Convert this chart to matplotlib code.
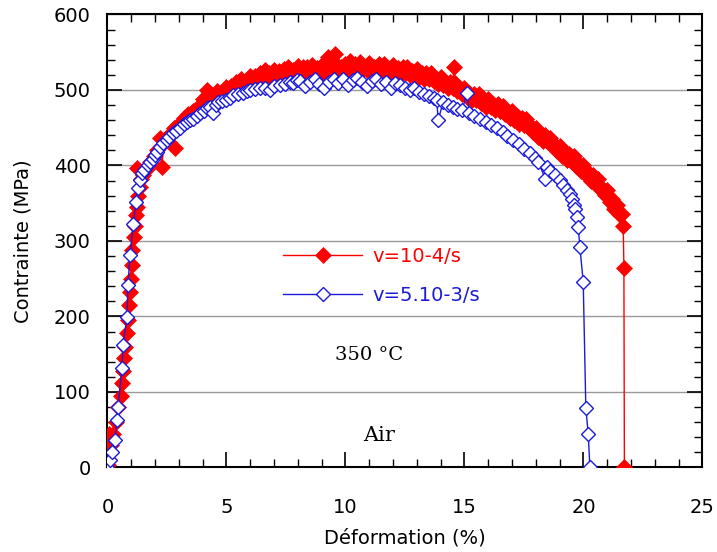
import matplotlib
matplotlib.use("Agg")
import matplotlib.pyplot as plt
from matplotlib.ticker import MultipleLocator

# v=10-4/s (filled red diamonds) - dense, noisy band
red_x = [0.02, 0.05, 0.15, 0.25, 0.35, 0.45, 0.55, 0.6, 0.65, 0.7, 0.75, 0.8, 0.85, 0.9,
         0.95, 1.0, 1.02, 1.05, 1.1, 1.15, 1.2, 1.25, 1.3, 1.23, 1.35, 1.4, 1.5, 1.65, 1.8,
         1.95, 2.1, 2.2, 2.28, 2.4, 2.6, 2.84, 2.8, 3.0, 3.2, 3.4, 3.6, 3.8,
         4.0, 4.1, 4.17, 4.2, 4.3, 4.4, 4.5, 4.6, 4.7, 4.8, 4.9,
         5.0, 5.1, 5.2, 5.3, 5.4, 5.5, 5.6, 5.7, 5.8, 5.9,
         6.0, 6.1, 6.2, 6.3, 6.4, 6.5, 6.6, 6.7, 6.8, 6.9,
         7.0, 7.1, 7.2, 7.3, 7.4, 7.5, 7.6, 7.7, 7.8, 7.9,
         8.0, 8.1, 8.2, 8.3, 8.4, 8.5, 8.6, 8.7, 8.8, 8.9,
         9.0, 9.1, 9.2, 9.25, 9.3, 9.4, 9.5, 9.55, 9.6, 9.7, 9.8, 9.9,
         10.0, 10.1, 10.2, 10.2, 10.3, 10.4, 10.5, 10.6, 10.7, 10.8, 10.9,
         11.0, 11.1, 11.2, 11.3, 11.4, 11.5, 11.6, 11.7, 11.8, 11.9,
         12.0, 12.1, 12.2, 12.3, 12.4, 12.5, 12.6, 12.7, 12.8, 12.9,
         13.0, 13.1, 13.2, 13.3, 13.4, 13.5, 13.6, 13.7, 13.8, 13.9,
         14.0, 14.1, 14.2, 14.3, 14.4, 14.5, 14.55, 14.6, 14.7, 14.8, 14.9,
         15.0, 15.1, 15.2, 15.3, 15.4, 15.5, 15.6, 15.7, 15.8, 15.9,
         16.0, 16.1, 16.2, 16.3, 16.4, 16.5, 16.6, 16.7, 16.8, 16.9,
         17.0, 17.1, 17.2, 17.3, 17.4, 17.5, 17.6, 17.7, 17.8, 17.9,
         18.0, 18.1, 18.2, 18.3, 18.4, 18.5, 18.6, 18.7, 18.8, 18.9,
         19.0, 19.1, 19.2, 19.3, 19.4, 19.5, 19.6, 19.7, 19.8, 19.9,
         20.0, 20.1, 20.2, 20.3, 20.4, 20.5, 20.6, 20.7, 20.8, 20.9,
         21.0, 21.1, 21.2, 21.3, 21.4, 21.5, 21.6, 21.67, 21.7, 21.72]
red_y = [3, 45, 30, 45, 60, 80, 95, 112, 128, 145, 160, 178, 195, 215,
         232, 250, 268, 288, 305, 320, 335, 345, 360, 396, 372, 382, 388, 395, 405,
         412, 420, 436, 398, 435, 440, 423, 450, 455, 463, 468, 472, 478,
         488, 480, 500, 488, 481, 493, 487, 498, 490, 496, 492,
         504, 496, 505, 499, 510, 504, 514, 505, 511, 507,
         518, 510, 518, 511, 522, 516, 526, 517, 522, 517,
         527, 518, 525, 518, 528, 522, 531, 522, 527, 522,
         532, 523, 530, 522, 531, 524, 533, 524, 529, 524,
         533, 523, 530, 543, 523, 533, 526, 548, 535, 526, 530, 524,
         535, 526, 538, 533, 524, 534, 528, 537, 526, 531, 526,
         536, 525, 531, 524, 534, 526, 535, 524, 529, 523,
         533, 522, 529, 520, 530, 522, 531, 520, 525, 518,
         528, 517, 523, 514, 523, 515, 523, 512, 515, 508,
         517, 506, 511, 502, 510, 502, 530, 509, 498, 501, 494,
         502, 491, 496, 487, 495, 487, 494, 483, 486, 478,
         488, 477, 482, 473, 481, 472, 479, 468, 471, 463,
         472, 460, 465, 455, 463, 454, 461, 449, 452, 444,
         450, 438, 442, 432, 440, 431, 437, 425, 427, 419,
         426, 413, 418, 407, 415, 405, 412, 399, 402, 393,
         400, 387, 391, 380, 387, 377, 382, 369, 370, 361,
         367, 352, 355, 342, 348, 336, 336, 320, 264, 0]

# v=5.10-3/s (open blue diamonds)
blue_x = [0.0, 0.1, 0.19, 0.32, 0.4, 0.44, 0.61, 0.65, 0.82, 0.86, 0.95, 1.08, 1.2, 1.28,
          1.37, 1.45, 1.55, 1.7, 1.8, 1.9, 2.0, 2.1, 2.2, 2.35, 2.49, 2.6, 2.76, 2.9, 3.05,
          3.2, 3.33, 3.45, 3.6, 3.75, 3.89, 4.05, 4.17, 4.3, 4.45, 4.55, 4.66, 4.8, 5.0, 5.15,
          5.29, 5.5, 5.71, 5.85, 5.99, 6.2, 6.4, 6.6, 6.83, 7.0, 7.25, 7.45, 7.67, 7.8, 7.95,
          8.1, 8.3, 8.5, 8.7, 8.9, 9.1, 9.3, 9.5, 9.7, 9.9, 10.1, 10.3, 10.5, 10.7, 10.9,
          11.1, 11.3, 11.5, 11.7, 11.9, 12.1, 12.3, 12.5, 12.7, 12.9, 13.1, 13.3, 13.5, 13.7,
          13.83, 13.9, 14.1, 14.3, 14.5, 14.7, 14.9, 15.1, 15.2, 15.4, 15.65, 15.9, 16.1,
          16.35, 16.6, 16.8, 17.05, 17.3, 17.5, 17.75, 17.95, 18.1, 18.4, 18.45, 18.6, 18.8,
          19.0, 19.15, 19.3, 19.43, 19.5, 19.6, 19.64, 19.71, 19.78, 19.85, 19.99, 20.1,
          20.2, 20.27]
blue_y = [0, 10, 21, 36, 63, 80, 132, 162, 199, 242, 281, 323, 352, 370,
          381, 390, 394, 401, 405, 408, 414, 418, 425, 430, 434, 438, 443, 446, 449,
          455, 458, 460, 462, 466, 469, 472, 476, 478, 469, 480, 484, 486, 487, 490,
          493, 494, 496, 498, 500, 501, 502, 503, 500, 505, 507, 508, 511, 509, 513,
          512, 505, 510, 514, 508, 503, 511, 515, 509, 514, 507, 513, 516, 510, 505,
          512, 515, 508, 511, 503, 509, 506, 503, 500, 503, 497, 495, 492, 489,
          487, 460, 484, 480, 477, 475, 473, 496, 470, 466, 462, 457, 453,
          449, 444, 439, 434, 428, 422, 416, 410, 405, 382, 398, 393, 387,
          381, 374, 367, 362, 356, 348, 342, 332, 319, 292, 246, 79,
          45, 1]

plt.rcParams['font.family'] = ['DejaVu Sans']

fig = plt.figure(figsize=(7.17, 5.52), dpi=100)
ax = fig.add_axes([0.1499, 0.1531, 0.8298, 0.8207])

ax.plot(red_x, red_y, color='#ff0000', lw=1, marker='D', ms=8.5, mfc='#ff0000',
        mec='#ff0000', mew=0.5, label='v=10-4/s', zorder=3)
ax.plot(blue_x, blue_y, color='#1a1ad8', lw=1, marker='D', ms=7.5, mfc='white',
        mec='#1a1ad8', mew=1, label='v=5.10-3/s', zorder=4)

ax.set_xlim(0, 25)
ax.set_ylim(0, 600)
ax.xaxis.set_major_locator(MultipleLocator(5))
ax.xaxis.set_minor_locator(MultipleLocator(1))
ax.yaxis.set_major_locator(MultipleLocator(100))
ax.yaxis.set_minor_locator(MultipleLocator(20))
ax.grid(axis='y', which='major', color='#999999', lw=1)
ax.set_axisbelow(True)

ax.tick_params(which='both', direction='in', top=True, right=True, labelsize=14)
ax.tick_params(which='major', length=11, width=1.2)
ax.tick_params(which='minor', length=6, width=1.0)
ax.tick_params(axis='x', which='major', pad=22)
ax.tick_params(axis='y', which='major', pad=12)
for s in ax.spines.values():
    s.set_linewidth(1.5)

ax.set_xlabel('Déformation (%)', fontsize=14, labelpad=8)
ax.set_ylabel('Contrainte (MPa)', fontsize=14, labelpad=15)

ax.text(11.0, 149, '350 °C', fontsize=14, family='DejaVu Serif', ha='center', va='center')
ax.text(11.4, 43, 'Air', fontsize=15, family='DejaVu Serif', ha='center', va='center')

leg = ax.legend(loc='center left', bbox_to_anchor=(0.265, 0.423), frameon=False, fontsize=14,
                numpoints=1, handlelength=4.1, handletextpad=0.5, labelspacing=1.0,
                labelcolor='linecolor')

fig.savefig('out.png', dpi=100)
